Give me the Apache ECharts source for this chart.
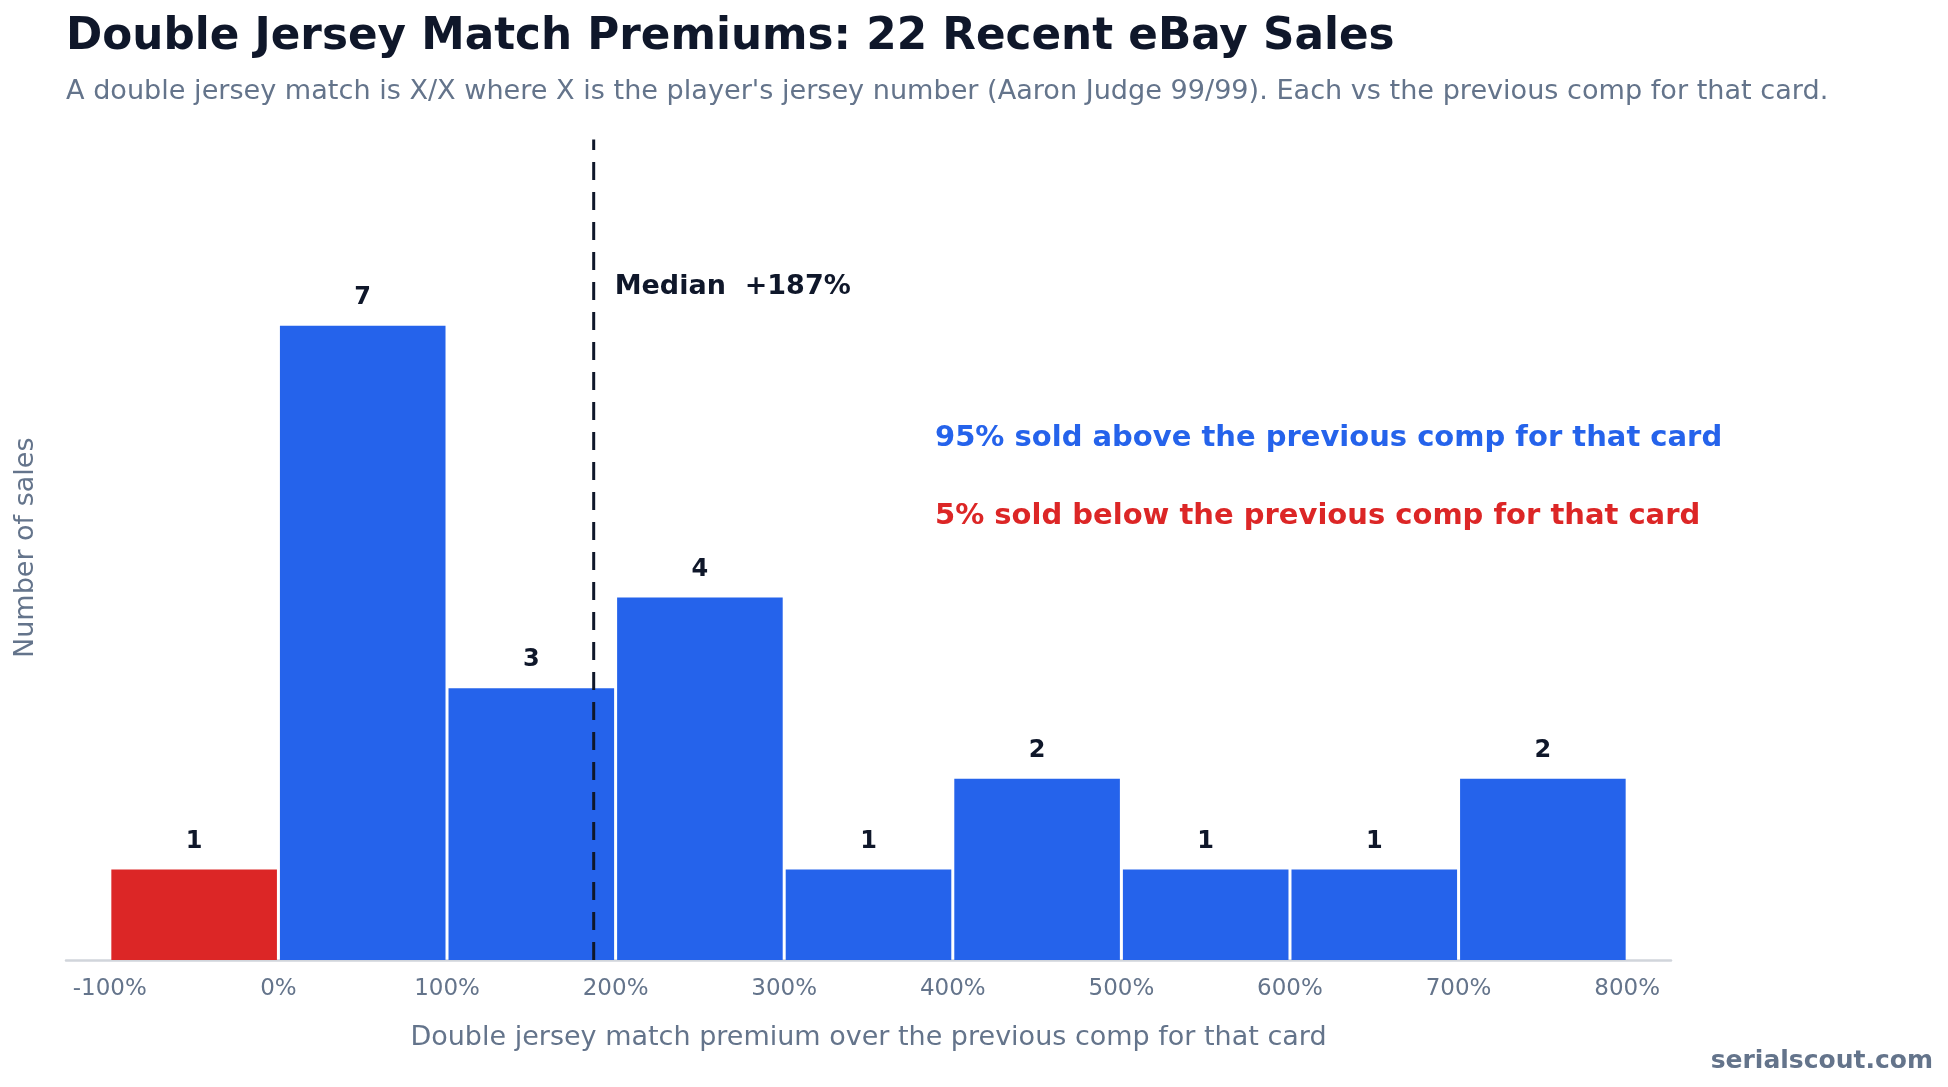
<!DOCTYPE html>
<html>
<head>
<meta charset="utf-8">
<title>Double Jersey Match Premiums</title>
<script src="https://cdn.jsdelivr.net/npm/echarts@6/dist/echarts.min.js"></script>
<style>
  html, body { margin: 0; padding: 0; background: #fff; }
  #main { width: 1948px; height: 1087px; }
</style>
</head>
<body>
<div id="main"></div>
<script>
// histogram bins (premium %, left edge / right edge) and sale counts
const binStarts = [-100, 0, 100, 200, 300, 400, 500, 600, 700];
const binEnds = [0, 100, 200, 300, 400, 500, 600, 700, 800];
const saleCounts = [1, 7, 3, 4, 1, 2, 1, 1, 2];
const xTicks = [-100, 0, 100, 200, 300, 400, 500, 600, 700, 800];
const medianPremium = 187;

const DARK = '#0f172a';
const GRAY = '#64748b';
const BLUE = '#2563eb';
const RED = '#dc2626';
const FONT = 'DejaVu Sans';

const yMax = 9.1;

let histData = binStarts.map((s, i) => [s, binEnds[i], saleCounts[i]]);

let option = {
    backgroundColor: '#fff',
    animation: false,
    textStyle: { fontFamily: FONT },
    title: [
        {
            text: 'Double Jersey Match Premiums: 22 Recent eBay Sales',
            left: 66,
            top: 16,
            padding: 0,
            textStyle: { fontFamily: FONT, fontSize: 43.7, fontWeight: 'bold', color: DARK }
        },
        {
            text: "A double jersey match is X/X where X is the player's jersey number (Aaron Judge 99/99). Each vs the previous comp for that card.",
            left: 66,
            top: 78,
            padding: 0,
            textStyle: { fontFamily: FONT, fontSize: 27.1, fontWeight: 'normal', color: GRAY }
        }
    ],
    grid: { left: 66, right: 277, top: 135.5, bottom: 127 },
    xAxis: {
        type: 'value',
        min: -126,
        max: 826,
        name: 'Double jersey match premium over the previous comp for that card',
        nameLocation: 'middle',
        nameGap: 64,
        nameTextStyle: { fontFamily: FONT, fontSize: 27, color: GRAY },
        axisLine: { show: true, lineStyle: { color: '#d1d5db', width: 2.5 } },
        axisTick: { show: false },
        splitLine: { show: false },
        axisLabel: {
            customValues: xTicks,
            formatter: v => v + '%',
            fontFamily: FONT,
            fontSize: 23,
            color: GRAY,
            margin: 18
        }
    },
    yAxis: {
        type: 'value',
        min: 0,
        max: yMax,
        name: 'Number of sales',
        nameLocation: 'middle',
        nameGap: 27,
        nameTextStyle: { fontFamily: FONT, fontSize: 27, color: GRAY },
        axisLine: { show: false },
        axisTick: { show: false },
        axisLabel: { show: false },
        splitLine: { show: false }
    },
    series: [
        {
            type: 'custom',
            data: histData,
            encode: { x: [0, 1], y: 2 },
            renderItem: function (params, api) {
                let x0 = api.value(0), x1 = api.value(1), c = api.value(2);
                let p0 = api.coord([x0, c]);
                let p1 = api.coord([x1, 0]);
                let fill = x1 <= 0 ? RED : BLUE;
                return {
                    type: 'group',
                    children: [
                        {
                            type: 'rect',
                            shape: { x: p0[0] + 1.5, y: p0[1], width: p1[0] - p0[0] - 3, height: p1[1] - p0[1] },
                            style: { fill: fill }
                        },
                        {
                            type: 'text',
                            style: {
                                text: String(c),
                                x: (p0[0] + p1[0]) / 2,
                                y: p0[1] - 28,
                                align: 'center',
                                verticalAlign: 'middle',
                                fontFamily: FONT,
                                fontSize: 24,
                                fontWeight: 'bold',
                                fill: DARK
                            }
                        }
                    ]
                };
            }
        },
        {
            // median marker
            type: 'line',
            data: [[medianPremium, 0], [medianPremium, yMax * 0.995]],
            symbol: 'none',
            silent: true,
            lineStyle: { color: DARK, width: 3, type: [18, 12] },
            z: 5
        },
        {
            type: 'scatter',
            data: [[medianPremium, 7.43]],
            symbolSize: 0,
            silent: true,
            itemStyle: { opacity: 1 },
            label: {
                show: true,
                position: 'right',
                distance: 21,
                formatter: 'Median  +' + medianPremium + '%',
                fontFamily: FONT,
                fontSize: 27,
                fontWeight: 'bold',
                color: DARK,
                opacity: 1
            }
        }
    ],
    graphic: [
        {
            type: 'text',
            left: 935,
            top: 436 - 12,
            style: { text: '95% sold above the previous comp for that card', fontFamily: FONT, fontSize: 29, fontWeight: 'bold', fill: BLUE }
        },
        {
            type: 'text',
            left: 935,
            top: 513 - 11,
            style: { text: '5% sold below the previous comp for that card', fontFamily: FONT, fontSize: 29, fontWeight: 'bold', fill: RED }
        },
        {
            type: 'text',
            right: 15,
            top: 1058 - 9,
            style: { text: 'serialscout.com', fontFamily: FONT, fontSize: 25, fontWeight: 'bold', fill: GRAY }
        }
    ]
};

let myChart = echarts.init(document.getElementById('main'));
myChart.setOption(option);
</script>
</body>
</html>
